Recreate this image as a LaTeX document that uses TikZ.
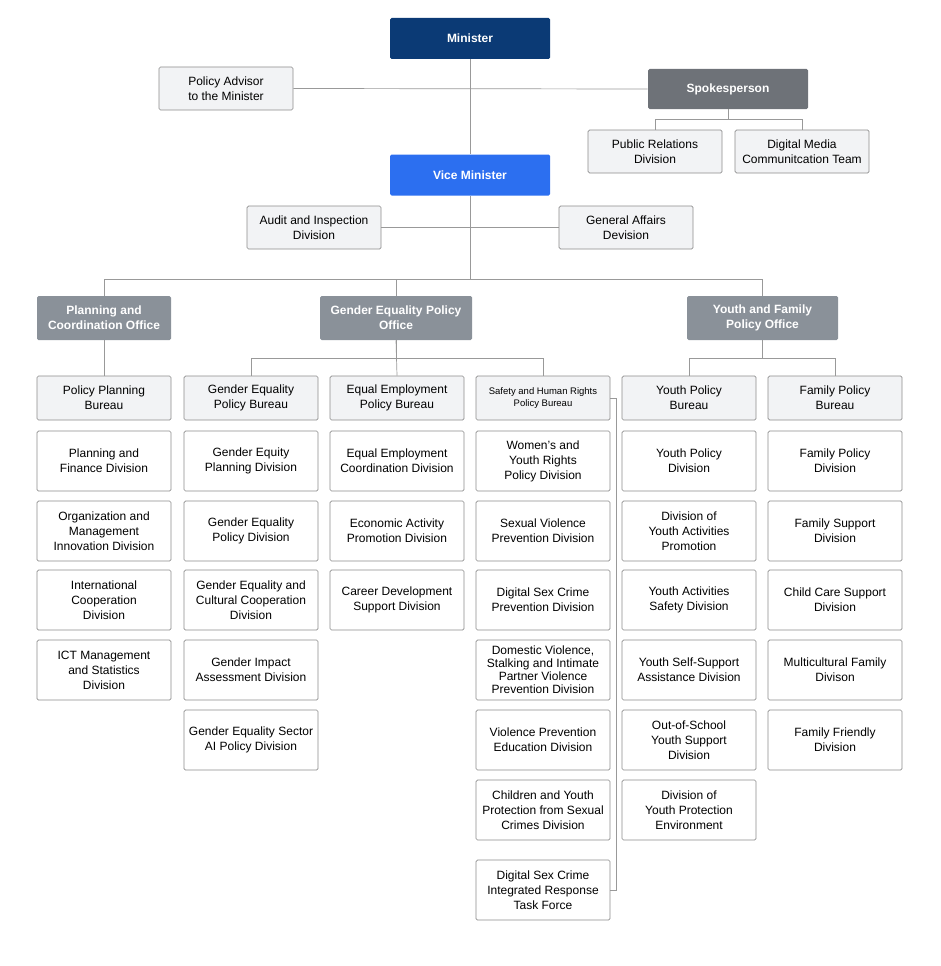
\documentclass[tikz,border=0pt]{standalone}
\usepackage{fontspec}
\setmainfont{Liberation Sans}
\begin{document}
\begin{tikzpicture}[x=1pt,y=-1pt,
  base/.style={draw=black!45,rounded corners=1.5pt,align=center,font=\fontsize{12}{15}\selectfont,inner sep=0pt,line width=0.7pt},
  top/.style={base,draw=none,text=white,minimum width=160,minimum height=41,font=\fontsize{12}{15}\selectfont\bfseries},
  off/.style={base,draw=none,fill=offc,text=white,minimum height=44,font=\fontsize{12}{15}\selectfont\bfseries},
  bur/.style={base,fill=lgray,minimum width=134,minimum height=44},
  div/.style={base,fill=white,minimum width=134,minimum height=60},
  ln/.style={draw=black!40,line width=0.7pt}]
\definecolor{offc}{HTML}{8A9199}
\definecolor{lgray}{HTML}{F2F3F5}
\definecolor{dblue}{HTML}{0B3A75}
\definecolor{vblue}{HTML}{2C6FF0}
\definecolor{spk}{HTML}{6E7278}
\useasboundingbox (0,0) rectangle (940,966);
% top
\node[top,fill=dblue] (min) at (470,38.5) {Minister};
\node[top,fill=vblue] (vm) at (470,175) {Vice Minister};
\node[bur,minimum height=43] (pa) at (226,88.5) {Policy Advisor\\to the Minister};
\node[top,fill=spk,minimum height=40] (sp) at (728,89) {Spokesperson};
\node[bur,minimum height=43] (pr) at (655,151.5) {Public Relations\\Division};
\node[bur,minimum height=43] (dm) at (802,151.5) {Digital Media\\Communitcation Team};
\node[bur,minimum height=43] (au) at (314,227.5) {Audit and Inspection\\Division};
\node[bur,minimum height=43] (ga) at (626,227.5) {General Affairs\\Devision};
% offices
\node[off,minimum width=134] (po) at (104,318) {Planning and\\Coordination Office};
\node[off,minimum width=152] (go) at (396,318) {Gender Equality Policy\\Office};
\node[off,minimum width=151] (yo) at (762.5,318) {Youth and Family\\Policy Office};
% connectors top
\coordinate (j1) at (470,279);
\draw[ln] (min) -- (vm);
\draw[ln] (pa.east) -- (sp.west);
\draw[ln] (sp.south) -- ++(0,10) -| (pr.north);
\draw[ln] (sp.south) -- ++(0,10) -| (dm.north);
\draw[ln] (au.east) -- (ga.west);
\draw[ln] (vm.south) -- (j1);
\draw[ln] (j1) -| (po.north);
\draw[ln] (j1) -| (yo.north);
\draw[ln] (go.north) -- (396,279);
% bureaus
\node[bur] (b1) at (104,398) {Policy Planning\\Bureau};
\node[bur] (b2) at (251,398) {Gender Equality\\Policy Bureau};
\node[bur] (b3) at (397,398) {Equal Employment\\Policy Bureau};
\node[bur,font=\fontsize{9.5}{12}\selectfont] (b4) at (543,398) {Safety and Human Rights\\Policy Bureau};
\node[bur] (b5) at (689,398) {Youth Policy\\Bureau};
\node[bur] (b6) at (835,398) {Family Policy\\Bureau};
\draw[ln] (po.south) -- (b1.north);
\draw[ln] (go.south) -- ++(0,18) -| (b2.north);
\draw[ln] (go.south) -- ++(0,18) -| (b4.north);
\draw[ln] (go.south) -- (b3.north);
\draw[ln] (yo.south) -- ++(0,18) -| (b5.north);
\draw[ln] (yo.south) -- ++(0,18) -| (b6.north);
% column 1
\node[div] (c11) at (104,461) {Planning and\\Finance Division};
\node[div] (c12) at (104,531) {Organization and\\Management\\Innovation Division};
\node[div] (c13) at (104,600) {International\\Cooperation\\Division};
\node[div] (c14) at (104,670) {ICT Management\\and Statistics\\Division};
% column 2
\node[div] (c21) at (251,461) {Gender Equity\\Planning Division};
\node[div] (c22) at (251,531) {Gender Equality\\Policy Division};
\node[div] (c23) at (251,600) {Gender Equality and\\Cultural Cooperation\\Division};
\node[div] (c24) at (251,670) {Gender Impact\\Assessment Division};
\node[div] (c25) at (251,740) {Gender Equality Sector\\AI Policy Division};
% column 3
\node[div] (c31) at (397,461) {Equal Employment\\Coordination Division};
\node[div] (c32) at (397,531) {Economic Activity\\Promotion Division};
\node[div] (c33) at (397,600) {Career Development\\Support Division};
% column 4
\node[div] (c41) at (543,461) {Women’s and\\Youth Rights\\Policy Division};
\node[div] (c42) at (543,531) {Sexual Violence\\Prevention Division};
\node[div] (c43) at (543,600) {Digital Sex Crime\\Prevention Division};
\node[div,font=\fontsize{12}{13}\selectfont] (c44) at (543,670) {Domestic Violence,\\Stalking and Intimate\\Partner Violence\\Prevention Division};
\node[div] (c45) at (543,740) {Violence Prevention\\Education Division};
\node[div] (c46) at (543,810) {Children and Youth\\Protection from Sexual\\Crimes Division};
\node[div] (c47) at (543,890) {Digital Sex Crime\\Integrated Response\\Task Force};
\draw[ln] (b4.east) -- ++(6,0) |- (c47.east);
% column 5
\node[div] (c51) at (689,461) {Youth Policy\\Division};
\node[div] (c52) at (689,531) {Division of\\Youth Activities\\Promotion};
\node[div] (c53) at (689,600) {Youth Activities\\Safety Division};
\node[div] (c54) at (689,670) {Youth Self-Support\\Assistance Division};
\node[div] (c55) at (689,740) {Out-of-School\\Youth Support\\Division};
\node[div] (c56) at (689,810) {Division of\\Youth Protection\\Environment};
% column 6
\node[div] (c61) at (835,461) {Family Policy\\Division};
\node[div] (c62) at (835,531) {Family Support\\Division};
\node[div] (c63) at (835,600) {Child Care Support\\Division};
\node[div] (c64) at (835,670) {Multicultural Family\\Divison};
\node[div] (c65) at (835,740) {Family Friendly\\Division};
\end{tikzpicture}
\end{document}
